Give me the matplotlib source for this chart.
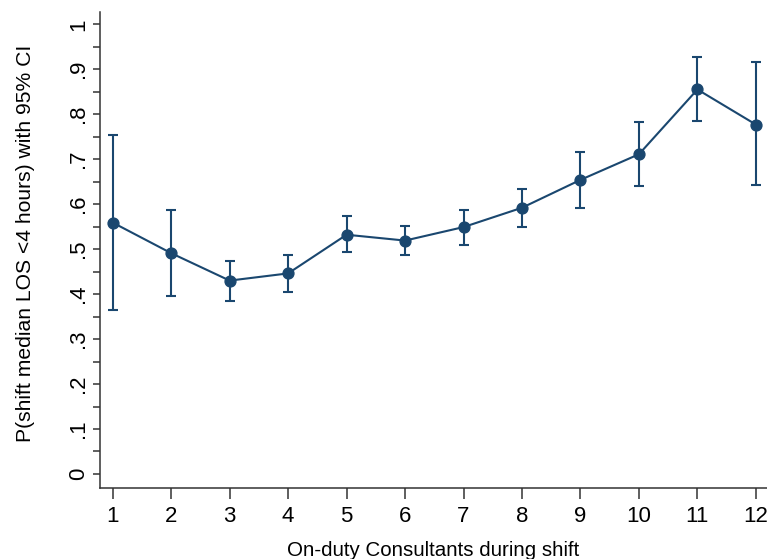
import matplotlib.pyplot as plt
from matplotlib.ticker import MultipleLocator

plt.rcParams['font.family'] = ['Liberation Sans', 'DejaVu Sans']

consultants = [1, 2, 3, 4, 5, 6, 7, 8, 9, 10, 11, 12]
prob = [0.559, 0.491, 0.430, 0.446, 0.532, 0.519, 0.549, 0.592, 0.654, 0.711, 0.855, 0.777]
ci_low = [0.364, 0.396, 0.385, 0.405, 0.493, 0.486, 0.510, 0.549, 0.591, 0.640, 0.785, 0.642]
ci_high = [0.753, 0.588, 0.474, 0.486, 0.573, 0.551, 0.588, 0.634, 0.715, 0.782, 0.927, 0.915]
yticks = [0, 0.1, 0.2, 0.3, 0.4, 0.5, 0.6, 0.7, 0.8, 0.9, 1.0]
ylabels = ['0', '.1', '.2', '.3', '.4', '.5', '.6', '.7', '.8', '.9', '1']

navy = '#1a476f'

fig = plt.figure(figsize=(7.67, 5.59), dpi=100)
ax = fig.add_axes([0.1304, 0.1276, 0.8696, 0.8515])

err_lo = [p - l for p, l in zip(prob, ci_low)]
err_hi = [h - p for p, h in zip(prob, ci_high)]
ax.errorbar(consultants, prob, yerr=[err_lo, err_hi], fmt='none',
            ecolor=navy, elinewidth=1.5, capsize=3.6, capthick=1.5, zorder=2)
ax.plot(consultants, prob, color=navy, lw=1.5, marker='o', markersize=7.8,
        markerfacecolor=navy, markeredgecolor=navy, zorder=3)

ax.set_xlim(0.783, 12.19)
ax.set_ylim(-0.0305, 1.028)
ax.set_xticks(consultants)
ax.set_yticks(yticks)
ax.set_yticklabels(ylabels, rotation=90, va='center')
ax.yaxis.set_minor_locator(MultipleLocator(0.05))

for side in ['top', 'right']:
    ax.spines[side].set_visible(False)
for side in ['left', 'bottom']:
    ax.spines[side].set_linewidth(1.1)
    ax.spines[side].set_color('#333333')

ax.tick_params(axis='x', length=8, width=1.1, color='#333333', labelsize=16, pad=5)
ax.tick_params(axis='y', which='both', length=5, width=1.1, color='#333333', labelsize=16, pad=3)

ax.set_xlabel('On-duty Consultants during shift', fontsize=14.8, labelpad=10)
ax.set_ylabel('P(shift median LOS <4 hours) with 95% CI', fontsize=15.2, labelpad=24, y=0.514)

fig.savefig('out.png', dpi=100)
